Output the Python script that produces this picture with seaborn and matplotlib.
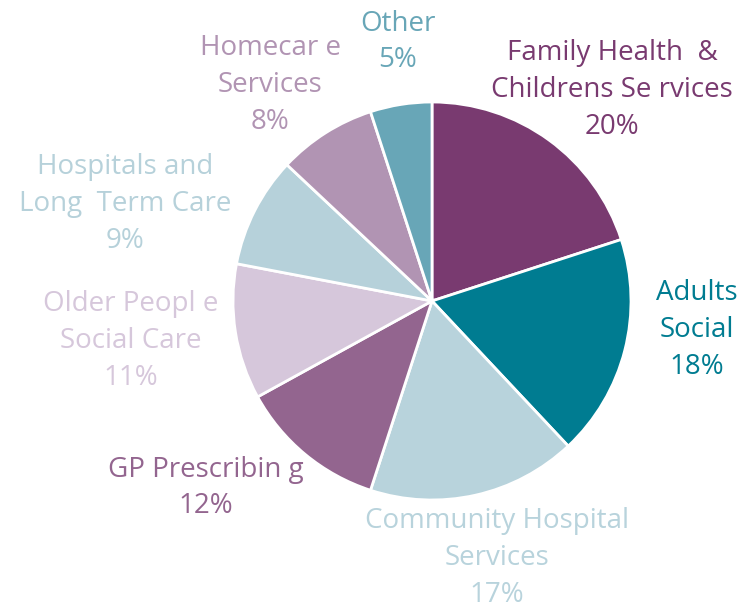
import matplotlib
matplotlib.use('Agg')
import matplotlib.pyplot as plt
import seaborn as sns

# ==================================================================================
# Data

categories = ['Family Health  &\nChildrens Se rvices', 'Adults\nSocial', 'Community Hospital\nServices',
              'GP Prescribin g', 'Older Peopl e\nSocial Care', 'Hospitals and\nLong  Term Care',
              'Homecar e\nServices', 'Other']
shares = [20, 18, 17, 12, 11, 9, 8, 5]
colours = ['#793a70', '#007c91', '#b8d3dc', '#93658f', '#d6c7db', '#b6d1da', '#b194b3', '#68a6b7']

# label centres in pixel space (x, y from top)
label_pos = [(612, 90), (697, 330), (497, 558), (206, 488), (131, 341), (125, 204), (270, 85), (398, 42)]

# ==================================================================================
sns.set_theme(style='white')
plt.rcParams['font.family'] = ['Open Sans', 'DejaVu Sans']

W, H = 751, 608
fig = plt.figure(figsize=(W / 100, H / 100), dpi=100)
ax = fig.add_axes([0, 0, 1, 1])

ax.pie(shares, colors=colours, startangle=90, counterclock=False,
       center=(432, H - 301), radius=199,
       wedgeprops={'edgecolor': 'white', 'linewidth': 2})

for cat, val, col, (x, y) in zip(categories, shares, colours, label_pos):
    ax.text(x, H - y, f'{cat}\n{val}%', color=col, fontsize=20,
            ha='center', va='center', linespacing=1.42)

ax.set_xlim(0, W)
ax.set_ylim(0, H)
ax.set_aspect('equal')
ax.axis('off')

fig.savefig('out.png', dpi=100)
